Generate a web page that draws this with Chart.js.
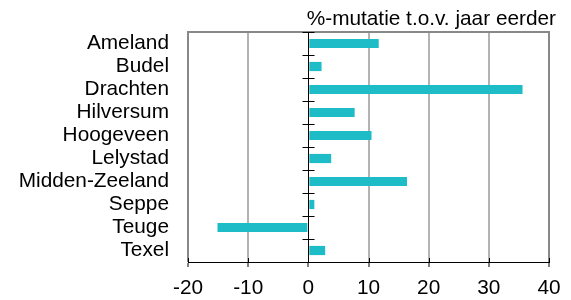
<!DOCTYPE html>
<html>
<head>
<meta charset="utf-8">
<script src="https://cdn.jsdelivr.net/npm/chart.js@4"></script>
<style>
html,body{margin:0;padding:0;background:#fff;}
#wrap{width:571px;height:300px;position:relative;}
</style>
</head>
<body>
<div id="wrap"><canvas id="mutatieChart"></canvas></div>
<script>

const plaatsen=["Ameland","Budel","Drachten","Hilversum","Hoogeveen","Lelystad","Midden-Zeeland","Seppe","Teuge","Texel"];

const mutatie=[11.7,2.2,35.6,7.7,10.5,3.8,16.4,1.0,-15.1,2.8];

const titel="%-mutatie t.o.v. jaar eerder";

const fontFam="'Liberation Sans', Arial, sans-serif";
const fontSize=20.8;

// nul-as met streepjes, bovenrand, titel
const extras={
id:"extras",
afterDraw(chart){
const ctx=chart.ctx;
const a=chart.chartArea;
const x=chart.scales.x;
const x0=Math.round(x.getPixelForValue(0))+0.5;

ctx.save();

ctx.strokeStyle="#888";
ctx.lineWidth=2;
ctx.beginPath();
ctx.moveTo(a.left-1,a.top);
ctx.lineTo(a.right+1,a.top);
ctx.stroke();

ctx.strokeStyle="#000";
ctx.lineWidth=1;
ctx.beginPath();
ctx.moveTo(x0,a.top);
ctx.lineTo(x0,a.bottom);
const step=(a.bottom-a.top)/plaatsen.length;
for(let i=0;i<=plaatsen.length;i++){
const py=Math.round(a.top+i*step)+0.5;
ctx.moveTo(x0-6,py);
ctx.lineTo(x0+6,py);
}
x.ticks.forEach(t=>{
const px=Math.round(x.getPixelForValue(t.value))+0.5;
ctx.moveTo(px,a.bottom-4);
ctx.lineTo(px,a.bottom);
});
ctx.stroke();

ctx.fillStyle="#000";
ctx.font=fontSize+"px "+fontFam;
ctx.textAlign="right";
ctx.textBaseline="alphabetic";
ctx.fillText(titel,556,25);

ctx.restore();
}
};

new Chart(document.getElementById("mutatieChart"),{

type:"bar",

data:{
labels:plaatsen,
datasets:[{
data:mutatie,
backgroundColor:"#1ebcc6",
borderWidth:0,
barPercentage:0.4,
categoryPercentage:1
}]
},

options:{
indexAxis:"y",
responsive:true,
maintainAspectRatio:false,
animation:false,
layout:{padding:{top:32,right:22,left:0,bottom:0}},
plugins:{
legend:{display:false},
tooltip:{enabled:false}
},
scales:{
x:{
min:-20,
max:40,
ticks:{
stepSize:10,
color:"#000",
padding:9,
font:{family:fontFam,size:fontSize}
},
grid:{
color:c=>{
const v=c.tick?c.tick.value:null;
if(v===0) return "rgba(0,0,0,0)";
if(v===-20||v===40) return "#888";
return "#b3b3b3";
},
lineWidth:2,
tickColor:"#000",
tickWidth:1,
tickLength:5
},
border:{color:"#000",width:1},
afterFit(s){s.height=38;}
},
y:{
ticks:{
autoSkip:false,
color:"#000",
padding:19,
font:{family:fontFam,size:fontSize}
},
grid:{display:false,drawTicks:false},
border:{display:false},
afterFit(s){s.width=188;}
}
}
},

plugins:[extras]

});

</script>
</body>
</html>
